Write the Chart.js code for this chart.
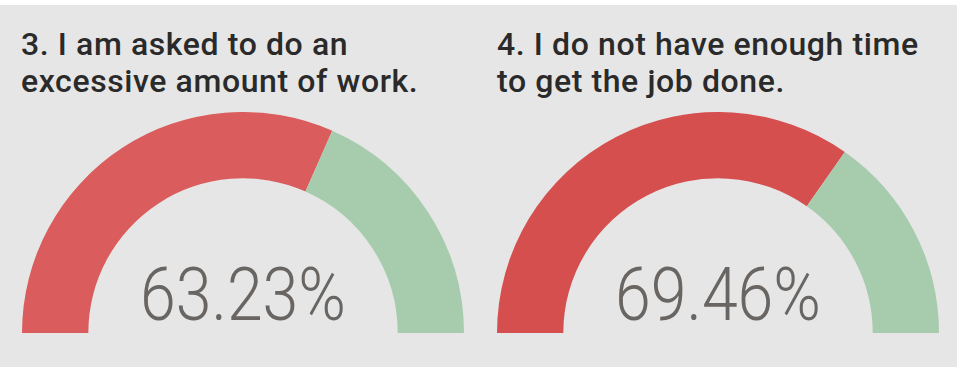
<!DOCTYPE html>
<html>
<head>
<meta charset="utf-8">
<script src="https://cdn.jsdelivr.net/npm/chart.js@4"></script>
<style>
  html, body { margin: 0; padding: 0; background: #ffffff; }
  #panel { position: absolute; left: 0; top: 5px; width: 957px; height: 362px; background: #e6e6e6; }
  .title { position: absolute; top: 21px; font-family: Roboto, "DejaVu Sans", sans-serif; font-weight: 500;
           font-size: 32px; line-height: 37px; letter-spacing: 0.6px; color: #2a2a2a; white-space: nowrap; }
  .gauge { position: absolute; top: 107px; width: 442px; height: 221px; }
</style>
</head>
<body>
<div id="panel">
  <div class="title" id="t1" style="left:21px"></div>
  <div class="title" id="t2" style="left:497px"></div>
  <div class="gauge" style="left:22px"><canvas id="g1"></canvas></div>
  <div class="gauge" style="left:497px"><canvas id="g2"></canvas></div>
</div>
<script>
// survey questions and share of agreeing answers
const questions = [
  ['3. I am asked to do an', 'excessive amount of work.'],
  ['4. I do not have enough time', 'to get the job done.']
];
const agreeShare = [63.23, 69.46];
const restShare = [36.77, 30.54];
const agreeColors = ['#da5c5c', '#d64f4f'];
const restColor = '#a7ccad';

// prints the agree value in the middle of the half ring
const centerValue = {
  id: 'centerValue',
  afterDraw(chart) {
    const ctx = chart.ctx;
    const arc = chart.getDatasetMeta(0).data[0];
    const value = chart.data.datasets[0].data[0];
    ctx.save();
    ctx.translate(arc.x, arc.y - 13);
    ctx.scale(0.87, 1); // narrower digits
    ctx.font = '300 74px Roboto, "DejaVu Sans", sans-serif';
    ctx.fillStyle = '#686562';
    ctx.textAlign = 'center';
    ctx.textBaseline = 'alphabetic';
    ctx.fillText(value.toFixed(2) + '%', 0, 0);
    ctx.restore();
  }
};

function makeGauge(id, i) {
  document.getElementById('t' + (i + 1)).innerHTML = questions[i].join('<br>');
  new Chart(document.getElementById(id), {
    type: 'doughnut',
    data: {
      labels: ['Agree', 'Other'],
      datasets: [{
        data: [agreeShare[i], restShare[i]],
        backgroundColor: [agreeColors[i], restColor],
        borderWidth: 0
      }]
    },
    options: {
      responsive: true,
      maintainAspectRatio: false,
      animation: false,
      rotation: -90,
      circumference: 180,
      cutout: '70%',
      layout: { padding: 0 },
      plugins: { legend: { display: false }, tooltip: { enabled: false } }
    },
    plugins: [centerValue]
  });
}

makeGauge('g1', 0);
makeGauge('g2', 1);
</script>
</body>
</html>
